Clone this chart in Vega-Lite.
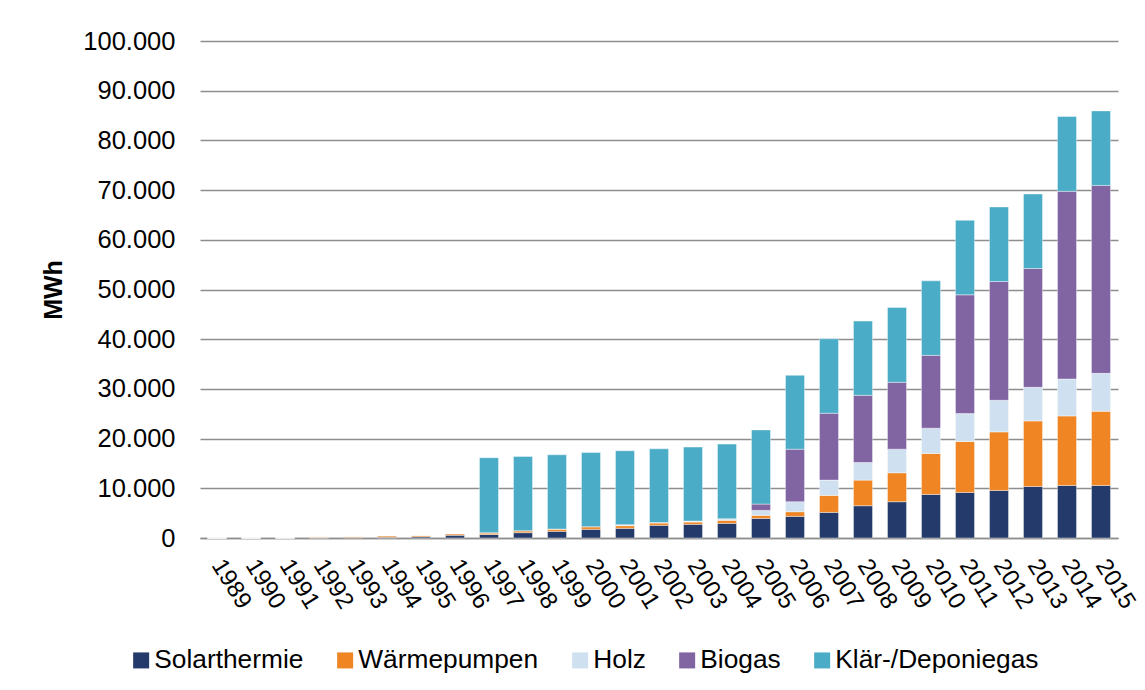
{
  "$schema": "https://vega.github.io/schema/vega-lite/v6.json",
  "autosize": {"type": "none"},
  "width": 918,
  "height": 497,
  "padding": {"left": 200, "top": 41, "right": 27, "bottom": 152},
  "background": "white",
  "config": {
    "locale": {"number": {"decimal": ",", "thousands": ".", "grouping": [3], "currency": ["", " €"]}},
    "font": "Liberation Sans",
    "view": {"stroke": null}
  },
  "data": {
    "values": [
      {"Jahr": "1989", "Solarthermie": 0, "Wärmepumpen": 0, "Holz": 0, "Biogas": 0, "Klär-/Deponiegas": 0},
      {"Jahr": "1990", "Solarthermie": 0, "Wärmepumpen": 0, "Holz": 0, "Biogas": 0, "Klär-/Deponiegas": 0},
      {"Jahr": "1991", "Solarthermie": 0, "Wärmepumpen": 20, "Holz": 0, "Biogas": 0, "Klär-/Deponiegas": 0},
      {"Jahr": "1992", "Solarthermie": 50, "Wärmepumpen": 200, "Holz": 0, "Biogas": 0, "Klär-/Deponiegas": 0},
      {"Jahr": "1993", "Solarthermie": 100, "Wärmepumpen": 230, "Holz": 0, "Biogas": 0, "Klär-/Deponiegas": 0},
      {"Jahr": "1994", "Solarthermie": 150, "Wärmepumpen": 320, "Holz": 0, "Biogas": 0, "Klär-/Deponiegas": 0},
      {"Jahr": "1995", "Solarthermie": 250, "Wärmepumpen": 300, "Holz": 0, "Biogas": 0, "Klär-/Deponiegas": 0},
      {"Jahr": "1996", "Solarthermie": 550, "Wärmepumpen": 330, "Holz": 0, "Biogas": 0, "Klär-/Deponiegas": 0},
      {"Jahr": "1997", "Solarthermie": 700, "Wärmepumpen": 350, "Holz": 0, "Biogas": 0, "Klär-/Deponiegas": 15100},
      {"Jahr": "1998", "Solarthermie": 1070, "Wärmepumpen": 400, "Holz": 0, "Biogas": 0, "Klär-/Deponiegas": 14940},
      {"Jahr": "1999", "Solarthermie": 1340, "Wärmepumpen": 470, "Holz": 0, "Biogas": 0, "Klär-/Deponiegas": 14930},
      {"Jahr": "2000", "Solarthermie": 1740, "Wärmepumpen": 540, "Holz": 0, "Biogas": 0, "Klär-/Deponiegas": 14930},
      {"Jahr": "2001", "Solarthermie": 1940, "Wärmepumpen": 540, "Holz": 200, "Biogas": 0, "Klär-/Deponiegas": 14870},
      {"Jahr": "2002", "Solarthermie": 2550, "Wärmepumpen": 460, "Holz": 100, "Biogas": 0, "Klär-/Deponiegas": 14840},
      {"Jahr": "2003", "Solarthermie": 2750, "Wärmepumpen": 460, "Holz": 200, "Biogas": 0, "Klär-/Deponiegas": 14880},
      {"Jahr": "2004", "Solarthermie": 2950, "Wärmepumpen": 600, "Holz": 330, "Biogas": 0, "Klär-/Deponiegas": 15010},
      {"Jahr": "2005", "Solarthermie": 3950, "Wärmepumpen": 600, "Holz": 1010, "Biogas": 1270, "Klär-/Deponiegas": 14920},
      {"Jahr": "2006", "Solarthermie": 4350, "Wärmepumpen": 940, "Holz": 2010, "Biogas": 10570, "Klär-/Deponiegas": 14860},
      {"Jahr": "2007", "Solarthermie": 5150, "Wärmepumpen": 3420, "Holz": 3080, "Biogas": 13450, "Klär-/Deponiegas": 14990},
      {"Jahr": "2008", "Solarthermie": 6490, "Wärmepumpen": 5160, "Holz": 3540, "Biogas": 13520, "Klär-/Deponiegas": 14930},
      {"Jahr": "2009", "Solarthermie": 7300, "Wärmepumpen": 5820, "Holz": 4750, "Biogas": 13460, "Klär-/Deponiegas": 15060},
      {"Jahr": "2010", "Solarthermie": 8770, "Wärmepumpen": 8230, "Holz": 5090, "Biogas": 14660, "Klär-/Deponiegas": 14990},
      {"Jahr": "2011", "Solarthermie": 9170, "Wärmepumpen": 10240, "Holz": 5620, "Biogas": 23900, "Klär-/Deponiegas": 14990},
      {"Jahr": "2012", "Solarthermie": 9570, "Wärmepumpen": 11780, "Holz": 6360, "Biogas": 23900, "Klär-/Deponiegas": 14990},
      {"Jahr": "2013", "Solarthermie": 10370, "Wärmepumpen": 13190, "Holz": 6760, "Biogas": 23900, "Klär-/Deponiegas": 14990},
      {"Jahr": "2014", "Solarthermie": 10580, "Wärmepumpen": 13980, "Holz": 7430, "Biogas": 37760, "Klär-/Deponiegas": 15060},
      {"Jahr": "2015", "Solarthermie": 10580, "Wärmepumpen": 14920, "Holz": 7630, "Biogas": 37820, "Klär-/Deponiegas": 14990}
    ]
  },
  "transform": [
    {"fold": ["Solarthermie", "Wärmepumpen", "Holz", "Biogas", "Klär-/Deponiegas"], "as": ["Quelle", "MWh"]},
    {
      "lookup": "Quelle",
      "from": {
        "data": {
          "values": [
            {"Quelle": "Solarthermie", "Rang": 1},
            {"Quelle": "Wärmepumpen", "Rang": 2},
            {"Quelle": "Holz", "Rang": 3},
            {"Quelle": "Biogas", "Rang": 4},
            {"Quelle": "Klär-/Deponiegas", "Rang": 5}
          ]
        },
        "key": "Quelle",
        "fields": ["Rang"]
      }
    }
  ],
  "mark": {"type": "bar", "stroke": "white", "strokeWidth": 0.8, "strokeOpacity": 0.5},
  "encoding": {
    "x": {
      "field": "Jahr",
      "type": "ordinal",
      "scale": {"paddingInner": 0.44, "paddingOuter": 0.22},
      "axis": {
        "title": null,
        "labelAngle": 58,
        "labelAlign": "left",
        "labelBaseline": "middle",
        "labelFontSize": 24,
        "labelColor": "black",
        "labelPadding": 23,
        "ticks": false,
        "domainColor": "#8E8E8E",
        "domainWidth": 1.5
      }
    },
    "y": {
      "field": "MWh",
      "type": "quantitative",
      "stack": "zero",
      "scale": {"domain": [0, 100000], "nice": false},
      "axis": {
        "title": "MWh",
        "titleFontSize": 25,
        "titleFontWeight": "bold",
        "titleColor": "black",
        "titlePadding": 16,
        "values": [0, 10000, 20000, 30000, 40000, 50000, 60000, 70000, 80000, 90000, 100000],
        "format": ",.0f",
        "labelFontSize": 25.5,
        "labelColor": "black",
        "labelPadding": 25,
        "ticks": false,
        "domain": false,
        "gridColor": "#8E8E8E",
        "gridWidth": 1.5
      }
    },
    "color": {
      "field": "Quelle",
      "type": "nominal",
      "sort": ["Solarthermie", "Wärmepumpen", "Holz", "Biogas", "Klär-/Deponiegas"],
      "scale": {
        "domain": ["Solarthermie", "Wärmepumpen", "Holz", "Biogas", "Klär-/Deponiegas"],
        "range": ["#233A6B", "#EF8523", "#CFE0F0", "#8164A2", "#4AACC6"]
      },
      "legend": {
        "title": null,
        "orient": "none",
        "direction": "horizontal",
        "legendX": -72,
        "legendY": 606,
        "symbolType": "square",
        "symbolSize": 256,
        "symbolStrokeWidth": 0,
        "labelFontSize": 26.3,
        "labelColor": "black",
        "labelOffset": 0,
        "labelLimit": 0,
        "columnPadding": 28
      }
    },
    "order": {"field": "Rang", "type": "quantitative", "sort": "ascending"}
  }
}
